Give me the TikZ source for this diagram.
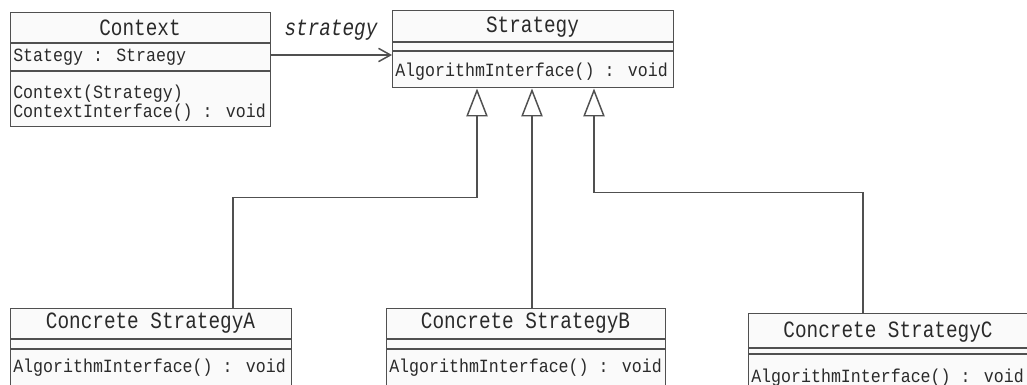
\documentclass[tikz,border=0pt]{standalone}
\usepackage{fontspec}
\setmonofont[FakeStretch=0.83]{Liberation Mono}
\newfontfamily\bodymono[FakeStretch=0.89]{Liberation Mono}
\usetikzlibrary{arrows.meta,calc}
\definecolor{ln}{HTML}{505050}
\definecolor{tx}{HTML}{2A2A2A}
\definecolor{bx}{HTML}{FAFAFA}
\tikzset{
  cls/.style={draw=ln, line width=1.1pt, fill=bx, anchor=north west, inner sep=0pt},
  sepline/.style={draw=ln, line width=1.1pt},
  ttl/.style={font=\ttfamily\fontsize{17.5}{19}\selectfont, text=tx, inner sep=0pt},
  body/.style={font=\bodymono\fontsize{14}{16}\selectfont, text=tx, inner sep=0pt, anchor=west},
  lbl/.style={font=\ttfamily\itshape\fontsize{17.5}{19}\selectfont, text=tx, inner sep=0pt},
  realize/.style={draw=ln, line width=1.1pt, -{Triangle[open, length=21pt, width=16pt, line width=1.1pt]}},
  assoc/.style={draw=ln, line width=1.1pt, -{Straight Barb[length=9pt, width=10pt, line width=1.1pt]}}
}
\begin{document}
\begin{tikzpicture}[x=0.75pt,y=-0.75pt]
\useasboundingbox (0,0) rectangle (1027,385);
\clip (0,0) rectangle (1027,385);
\fill[white] (0,0) rectangle (1027,385);

% Context
\node[cls, minimum width=195pt, minimum height=85.5pt] (ctx) at (10,12) {};
\draw[sepline] (ctx.west |- 0,43) -- (ctx.east |- 0,43);
\draw[sepline] (ctx.west |- 0,71) -- (ctx.east |- 0,71);
\node[ttl] (ctxT) at (140,28) {Context};
\node[body] (ctxA) at (13,57) {Stategy : Straegy};
\node[body] (ctxM1) at (13,94) {Context(Strategy)};
\node[body] (ctxM2) at (13,113) {ContextInterface() : void};

% Strategy
\node[cls, minimum width=210.75pt, minimum height=57.75pt] (st) at (392,10) {};
\draw[sepline] (st.west |- 0,42) -- (st.east |- 0,42);
\draw[sepline] (st.west |- 0,51) -- (st.east |- 0,51);
\node[ttl] (stT) at (532.5,27) {Strategy};
\node[body] (stM) at (395,72) {AlgorithmInterface() : void};

% Concrete A
\node[cls, minimum width=210.75pt, minimum height=66pt] (ca) at (10,308) {};
\draw[sepline] (ca.west |- 0,339) -- (ca.east |- 0,339);
\draw[sepline] (ca.west |- 0,349) -- (ca.east |- 0,349);
\node[ttl] (caT) at (150.5,323) {Concrete StrategyA};
\node[body] (caM) at (13,368) {AlgorithmInterface() : void};

% Concrete B
\node[cls, minimum width=209.25pt, minimum height=66pt] (cb) at (386,308) {};
\draw[sepline] (cb.west |- 0,339) -- (cb.east |- 0,339);
\draw[sepline] (cb.west |- 0,349) -- (cb.east |- 0,349);
\node[ttl] (cbT) at (525.5,323) {Concrete StrategyB};
\node[body] (cbM) at (389,368) {AlgorithmInterface() : void};

% Concrete C
\node[cls, minimum width=213.75pt, minimum height=62pt] (cc) at (748,313) {};
\draw[sepline] (cc.west |- 0,348) -- (cc.east |- 0,348);
\draw[sepline] (cc.west |- 0,354) -- (cc.east |- 0,354);
\node[ttl] (ccT) at (888,332) {Concrete StrategyC};
\node[body] (ccM) at (751,378) {AlgorithmInterface() : void};

% association
\draw[assoc] (ctx.east |- 0,55) -- (st.west |- 0,55);
\node[lbl] (assocL) at (331,30) {strategy};

% realizations
\draw[realize] ($(ca.north west)+(223,0)$) |- ($(st.south west)+(85,109)$) -- ($(st.south west)+(85,0)$);
\draw[realize] ($(cb.north west)+(146,0)$) -- ($(st.south west)+(140,0)$);
\draw[realize] ($(cc.north west)+(115,0)$) |- ($(st.south west)+(202,104)$) -- ($(st.south west)+(202,0)$);
\end{tikzpicture}
\end{document}
